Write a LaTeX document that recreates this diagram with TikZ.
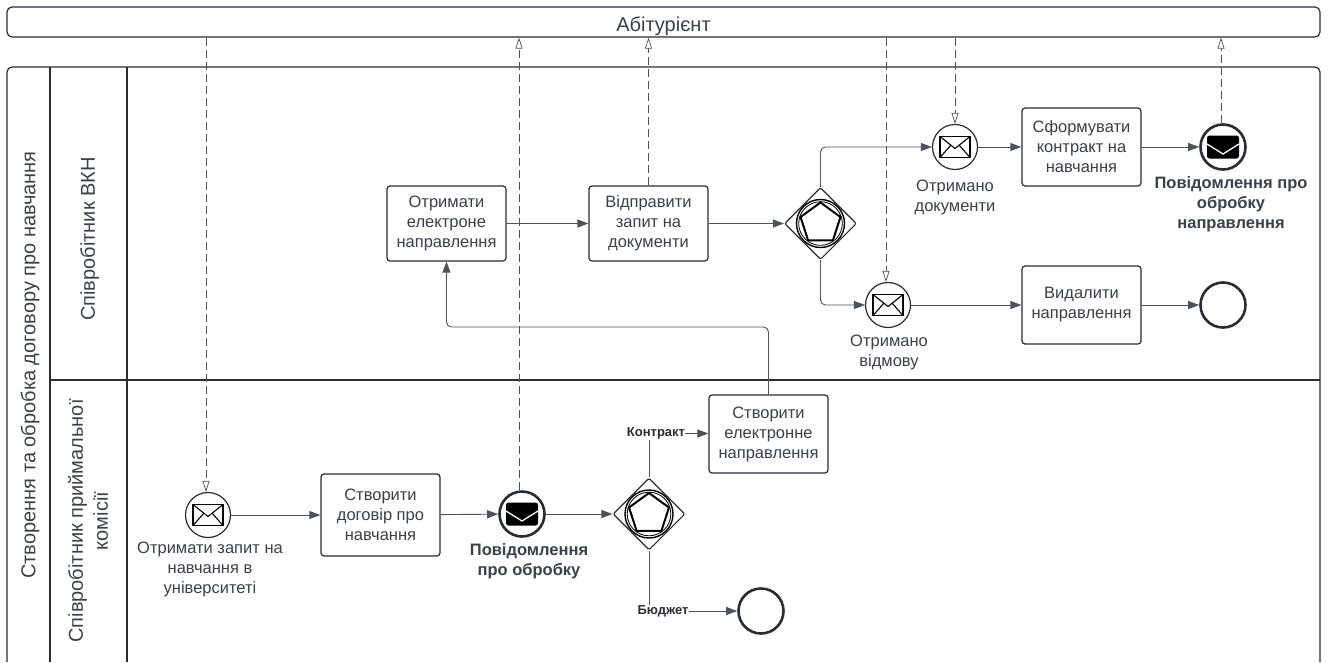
\documentclass[tikz,border=0pt]{standalone}
\usepackage{fontspec}
\setmainfont{Liberation Sans}
\usetikzlibrary{arrows.meta,shapes.geometric,positioning}
\definecolor{inkdark}{HTML}{282C33}
\definecolor{inktext}{HTML}{3A414A}
\definecolor{inkflow}{HTML}{4C535D}
\tikzset{
	poolline/.style={draw=inkdark,line width=1.2pt},
	taskbox/.style={draw=inkdark,line width=1.2pt,rounded corners=3pt,fill=white,text=inktext,align=center,minimum width=119pt,minimum height=78pt,inner sep=0pt,font=\fontsize{16.5}{20}\selectfont},
	msgevent/.style={circle,draw=inkdark,line width=1.2pt,minimum size=45pt,inner sep=0pt,fill=white},
	endevent/.style={circle,draw=inkdark,line width=2.6pt,minimum size=45pt,inner sep=0pt,fill=white},
	gateway/.style={diamond,draw=inkdark,line width=1.1pt,rounded corners=2pt,minimum size=72pt,inner sep=0pt,fill=white},
	seqflow/.style={draw=inkflow,line width=0.9pt,rounded corners=5pt,-{Triangle[length=11pt,width=8pt,fill=inkflow]}},
	plainflow/.style={draw=inkflow,line width=1pt},
	msgflow/.style={draw=inkflow,line width=0.7pt,dash pattern=on 8pt off 4pt,-{Triangle[open,length=11pt,width=7pt,fill=white]}},
	eventtext/.style={text=inktext,align=center,inner sep=0pt,font=\fontsize{16.5}{20}\selectfont},
	eventbold/.style={text=inktext,align=center,inner sep=0pt,font=\fontsize{16.5}{20}\selectfont\bfseries},
	flowtext/.style={text=inkdark,inner sep=0pt,font=\fontsize{13}{15}\selectfont\bfseries},
	lanetext/.style={text=inktext,align=center,rotate=90,inner sep=0pt,font=\fontsize{20}{25}\selectfont}
}
\newcommand{\mailopen}[1]{
	\begin{scope}[shift={(#1)},draw=black,line width=1.1pt,line join=round]
		\draw (-15,-10.5) rectangle (15,10.5);
		\draw (-15,-10.5) -- (0,1.5) -- (15,-10.5);
		\draw (-15,10.5) -- (-4,-2);
		\draw (15,10.5) -- (4,-2);
	\end{scope}
}
\newcommand{\mailfull}[1]{
	\begin{scope}[shift={(#1)}]
		\fill[black,rounded corners=2.5pt] (-16,-11.5) rectangle (16,11.5);
		\draw[white,line width=1.3pt] (-16,-3) -- (0,7) -- (16,-3);
	\end{scope}
}
\newcommand{\gwmark}[1]{
	\draw[black,line width=1.4pt] (#1) circle (24);
	\draw[black,line width=0.8pt] (#1) circle (21.8);
	\node[regular polygon,regular polygon sides=5,draw=black,line width=2pt,minimum size=42pt,inner sep=0pt] at (#1) {};
}
\begin{document}
\begin{tikzpicture}[x=1pt,y=-1pt]
	\useasboundingbox (0,0) rectangle (1331,662);
	\fill[white] (0,0) rectangle (1331,662);
	% pool and lanes
	\node[poolline,rounded corners=5pt,minimum width=1313pt,minimum height=30pt,inner sep=0pt] (abit) at (663.5,22) {};
	\node[text=inktext,font=\fontsize{20}{24}\selectfont,inner sep=0pt] (abittext) at (663.5,26) {Абітурієнт};
	\draw[poolline,rounded corners=5pt] (7,662) -- (7,67) -- (1320,67) -- (1320,662);
	\draw[poolline] (50,67) -- (50,662);
	\draw[poolline] (127,67) -- (127,662);
	\draw[poolline] (50,380) -- (1320,380);
	\node[lanetext] (pooltext) at (30,365) {Створення та обробка договору про навчання};
	\node[lanetext] (vkntext) at (89.5,239) {Співробітник ВКН};
	\node[lanetext] (admtext) at (88,521) {Співробітник приймальної\\комісії};
	% tasks
	\node[taskbox,minimum height=75pt] (getdir) at (446.5,223.5) {Отримати\\електроне\\направлення};
	\node[taskbox,minimum height=75pt] (askdocs) at (648.5,223.5) {Відправити\\запит на\\документи};
	\node[taskbox] (mkcontract) at (1081.5,147) {Сформувати\\контракт на\\навчання};
	\node[taskbox] (deldir) at (1081.5,305) {Видалити\\направлення};
	\node[taskbox] (mkdir) at (768.5,434) {Створити\\електронне\\направлення};
	\node[taskbox,minimum height=82pt] (mkdeal) at (380.5,515) {Створити\\договір про\\навчання};
	% events
	\node[msgevent] (gotdocs) at (955,147) {};
	\node[msgevent] (gotno) at (888,305) {};
	\node[msgevent] (askstart) at (208,515) {};
	\node[endevent] (notedir) at (1223,147) {};
	\node[endevent] (notedeal) at (522,514) {};
	\node[endevent] (enddel) at (1223,305) {};
	\node[endevent] (endbudget) at (761,611) {};
	\mailopen{955,147}
	\mailopen{888,305}
	\mailopen{208,515}
	\mailfull{1223,147}
	\mailfull{522,514}
	% gateways
	\node[gateway] (gwdocs) at (820.5,223.5) {};
	\node[gateway] (gwpay) at (649,514) {};
	\gwmark{820.5,223.5}
	\gwmark{649,514}
	% event texts
	\node[eventtext,below=10pt of gotdocs] (gotdocstext) {Отримано\\документи};
	\node[eventtext,below=7pt of gotno,xshift=1pt] (gotnotext) {Отримано\\відмову};
	\node[eventtext,below=4pt of askstart,xshift=2pt] (askstarttext) {Отримати запит на\\навчання в\\університеті};
	\node[eventbold,below=6pt of notedir,xshift=8pt] (notedirtext) {Повідомлення про\\обробку\\направлення};
	\node[eventbold,below=6pt of notedeal,xshift=7pt] (notedealtext) {Повідомлення\\про обробку};
	\node[flowtext] (contracttext) at (656,433.5) {Контракт};
	\node[flowtext] (budgettext) at (663,611) {Бюджет};
	% sequence flows
	\coordinate (backbend) at (446.5,327);
	\draw[seqflow] (getdir) -- (askdocs);
	\draw[seqflow] (askdocs) -- (gwdocs);
	\draw[seqflow] (gwdocs.north) |- (gotdocs.west);
	\draw[seqflow] (gwdocs.south) |- (gotno.west);
	\draw[seqflow] (gotdocs) -- (mkcontract);
	\draw[seqflow] (mkcontract) -- (notedir);
	\draw[seqflow] (gotno) -- (deldir);
	\draw[seqflow] (deldir) -- (enddel);
	\draw[seqflow] (mkdir.north) |- (backbend) -- (getdir.south);
	\draw[seqflow] (askstart) -- (mkdeal);
	\draw[seqflow] (mkdeal) -- (notedeal);
	\draw[seqflow] (notedeal) -- (gwpay);
	\draw[plainflow] (gwpay.north) -- (gwpay.north |- contracttext.south);
	\draw[plainflow] (gwpay.south) -- (gwpay.south |- budgettext.north);
	\draw[seqflow] (contracttext.east) -- (contracttext.east -| mkdir.west);
	\draw[seqflow] (budgettext.east) -- (endbudget.west);
	% message flows
	\draw[msgflow] ([xshift=-2pt]askstart.north |- abit.south) -- ([xshift=-2pt]askstart.north);
	\draw[msgflow] ([xshift=-3pt]notedeal.north) -- ([xshift=-3pt]notedeal.north |- abit.south);
	\draw[msgflow] (askdocs.north) -- (askdocs.north |- abit.south);
	\draw[msgflow] ([xshift=-2pt]gotno.north |- abit.south) -- ([xshift=-2pt]gotno.north);
	\draw[msgflow] (gotdocs.north |- abit.south) -- (gotdocs.north);
	\draw[msgflow] ([xshift=-2pt]notedir.north) -- ([xshift=-2pt]notedir.north |- abit.south);
\end{tikzpicture}
\end{document}
